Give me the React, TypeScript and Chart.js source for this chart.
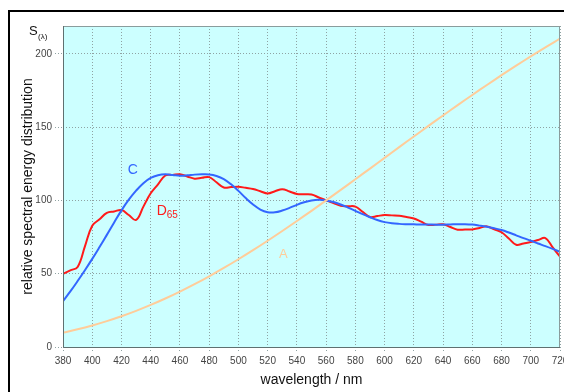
import React, { useEffect, useRef } from "react";
import { Chart, registerables } from "chart.js";

Chart.register(...registerables);

// Wavelengths (nm)
const wl5: number[] = [
  380, 385, 390, 395, 400, 405, 410, 415, 420, 425, 430, 435, 440, 445, 450, 455, 460, 465, 470, 475,
  480, 485, 490, 495, 500, 505, 510, 515, 520, 525, 530, 535, 540, 545, 550, 555, 560, 565, 570, 575,
  580, 585, 590, 595, 600, 605, 610, 615, 620, 625, 630, 635, 640, 645, 650, 655, 660, 665, 670, 675,
  680, 685, 690, 695, 700, 705, 710, 715, 720,
];

// Illuminant D65
const d65Values: number[] = [
  49.98, 52.31, 54.65, 68.7, 82.75, 87.12, 91.49, 92.46, 93.43, 90.06, 86.68, 95.77, 104.86, 110.94,
  117.01, 117.41, 117.81, 116.34, 114.86, 115.39, 115.92, 112.37, 108.81, 109.08, 109.35, 108.58, 107.8,
  106.3, 104.79, 106.24, 107.69, 106.05, 104.41, 104.23, 104.05, 102.02, 100.0, 98.17, 96.33, 96.06,
  95.79, 92.24, 88.69, 89.35, 90.01, 89.8, 89.6, 88.65, 87.7, 85.49, 83.29, 83.49, 83.7, 81.86, 80.03,
  80.12, 80.21, 81.25, 82.28, 80.28, 78.28, 74.0, 69.72, 70.67, 71.61, 72.98, 74.35, 67.98, 61.6,
];

// Illuminant C (relative, 100 at 560 nm)
const cValues: number[] = [
  31.3, 37.9, 45.0, 52.4, 60.1, 68.2, 76.5, 85.0, 93.2, 100.5, 106.7, 111.8, 115.4, 117.2, 117.8, 117.4,
  116.9, 117.1, 117.6, 117.8, 117.7, 116.7, 114.6, 111.0, 106.5, 101.6, 97.2, 93.8, 92.0, 91.9, 93.1,
  94.9, 97.0, 98.7, 99.9, 100.4, 100.0, 98.9, 97.2, 95.1, 92.9, 90.6, 88.5, 86.6, 85.2, 84.4, 84.0, 83.8,
  83.7, 83.6, 83.6, 83.4, 83.4, 83.6, 83.8, 83.8, 83.5, 82.8, 82.0, 81.0, 79.8, 78.1, 76.2, 74.3, 72.5,
  70.6, 68.8, 66.9, 64.9,
];

// Illuminant A
const wl10: number[] = [
  380, 390, 400, 410, 420, 430, 440, 450, 460, 470, 480, 490, 500, 510, 520, 530, 540, 550, 560, 570,
  580, 590, 600, 610, 620, 630, 640, 650, 660, 670, 680, 690, 700, 710, 720,
];
const aValues: number[] = [
  9.8, 12.09, 14.71, 17.68, 20.99, 24.67, 28.7, 33.09, 37.81, 42.87, 48.24, 53.91, 59.86, 66.06, 72.5,
  79.13, 85.95, 92.91, 100.0, 107.18, 114.44, 121.73, 129.04, 136.35, 143.62, 150.84, 157.98, 165.03,
  171.96, 178.77, 185.43, 191.93, 198.26, 204.41, 210.36,
];

// Axis ranges / ticks
const xMin = 380;
const xMax = 720;
const xStep = 20;
const yMin = 0;
const yMax = 219;
const yStep = 50;

// Curve labels (data coordinates)
const curveLabels = [
  { text: "C", sub: "", x: 427.7, y: 120.5, color: "#3366ff", size: 14 },
  { text: "D", sub: "65", x: 444.1, y: 92.6, color: "#ff1a1a", size: 14 },
  { text: "A", sub: "", x: 530.8, y: 63.5, color: "#ffcc99", size: 13 },
];

const FONT = "'Liberation Sans', Arial, sans-serif";

const plotDecor = {
  id: "plotDecor",
  beforeDraw(chart: any) {
    const { ctx, chartArea } = chart;
    ctx.save();
    ctx.fillStyle = "#ccffff";
    ctx.fillRect(chartArea.left, chartArea.top, chartArea.right - chartArea.left, chartArea.bottom - chartArea.top);
    ctx.restore();
  },
  afterDatasetsDraw(chart: any) {
    const { ctx, chartArea, scales } = chart;
    ctx.save();
    // plot frame
    ctx.strokeStyle = "#8a9c9c";
    ctx.lineWidth = 1;
    ctx.strokeRect(chartArea.left + 0.5, chartArea.top + 0.5, chartArea.right - chartArea.left - 1, chartArea.bottom - chartArea.top);
    ctx.strokeStyle = "#5f7070";
    ctx.beginPath();
    ctx.moveTo(chartArea.left + 0.5, chartArea.top);
    ctx.lineTo(chartArea.left + 0.5, chartArea.bottom + 0.5);
    ctx.lineTo(chartArea.right, chartArea.bottom + 0.5);
    ctx.stroke();

    // curve labels
    for (const l of curveLabels) {
      const px = scales.x.getPixelForValue(l.x);
      const py = scales.y.getPixelForValue(l.y);
      ctx.fillStyle = l.color;
      ctx.font = `${l.size}px ${FONT}`;
      ctx.textBaseline = "middle";
      if (l.sub) {
        ctx.textAlign = "left";
        ctx.fillText(l.text, px, py);
        const w = ctx.measureText(l.text).width;
        ctx.font = `10px ${FONT}`;
        ctx.fillText(l.sub, px + w, py + 4);
      } else {
        ctx.textAlign = "center";
        ctx.fillText(l.text, px, py);
      }
    }

    // S(λ) label
    ctx.fillStyle = "#111";
    ctx.textAlign = "left";
    ctx.textBaseline = "alphabetic";
    ctx.font = `13px ${FONT}`;
    ctx.fillText("S", chartArea.left - 34, chartArea.top + 9);
    ctx.font = `8px ${FONT}`;
    ctx.fillText("(λ)", chartArea.left - 25, chartArea.top + 13);
    ctx.restore();
  },
};

export default function App() {
  const ref = useRef<HTMLCanvasElement>(null);

  useEffect(() => {
    if (!ref.current) return;
    const chart = new Chart(ref.current, {
      type: "line",
      data: {
        datasets: [
          {
            label: "A",
            data: wl10.map((w, i) => ({ x: w, y: aValues[i] })),
            borderColor: "#ffcc99",
            borderWidth: 2,
            pointRadius: 0,
            tension: 0.4,
          },
          {
            label: "C",
            data: wl5.map((w, i) => ({ x: w, y: cValues[i] })),
            borderColor: "#3366ff",
            borderWidth: 2,
            pointRadius: 0,
            tension: 0.4,
          },
          {
            label: "D65",
            data: wl5.map((w, i) => ({ x: w, y: d65Values[i] })),
            borderColor: "#ff1a1a",
            borderWidth: 2,
            pointRadius: 0,
            tension: 0.4,
          },
        ],
      },
      options: {
        animation: false,
        responsive: false,
        devicePixelRatio: 1,
        layout: { padding: { top: 14, right: 20, left: 0, bottom: 0 } },
        plugins: { legend: { display: false }, tooltip: { enabled: false } },
        scales: {
          x: {
            type: "linear",
            min: xMin,
            max: xMax,
            afterFit: (s: any) => {
              s.height = 45;
            },
            ticks: {
              stepSize: xStep,
              autoSkip: false,
              maxRotation: 0,
              padding: 4,
              color: "#444",
              font: { family: FONT, size: 10 },
            },
            grid: {
              color: "#8fa3a3",
              tickLength: 4,
              tickBorderDash: [1, 2],
              lineWidth: 1,
            },
            border: { display: false, dash: [1, 2] },
            title: {
              display: true,
              text: "wavelength / nm",
              color: "#111",
              font: { family: FONT, size: 14 },
              padding: { top: 0, bottom: 3 },
            },
          },
          y: {
            type: "linear",
            min: yMin,
            max: yMax,
            afterFit: (s: any) => {
              s.width = 53;
            },
            afterBuildTicks: (s: any) => {
              s.ticks = s.ticks.filter((t: any) => t.value % yStep === 0);
            },
            ticks: {
              stepSize: yStep,
              padding: 3,
              color: "#444",
              font: { family: FONT, size: 10 },
            },
            grid: {
              color: "#8fa3a3",
              tickLength: 8,
              tickBorderDash: [1, 2],
              lineWidth: 1,
            },
            border: { display: false, dash: [1, 2] },
            title: {
              display: true,
              text: "relative spectral energy distribution",
              color: "#111",
              font: { family: FONT, size: 14 },
              padding: { top: 10, bottom: 0 },
            },
          },
        },
      },
      plugins: [plotDecor],
    } as any);
    return () => chart.destroy();
  }, []);

  return (
    <div
      style={{
        position: "fixed",
        left: 8,
        top: 10,
        width: 556,
        height: 382,
        overflow: "hidden",
        borderTop: "2px solid #000",
        borderLeft: "2px solid #000",
        boxSizing: "border-box",
        background: "#fff",
      }}
    >
      <canvas ref={ref} width={570} height={380} style={{ display: "block", width: 570, height: 380 }} />
    </div>
  );
}
